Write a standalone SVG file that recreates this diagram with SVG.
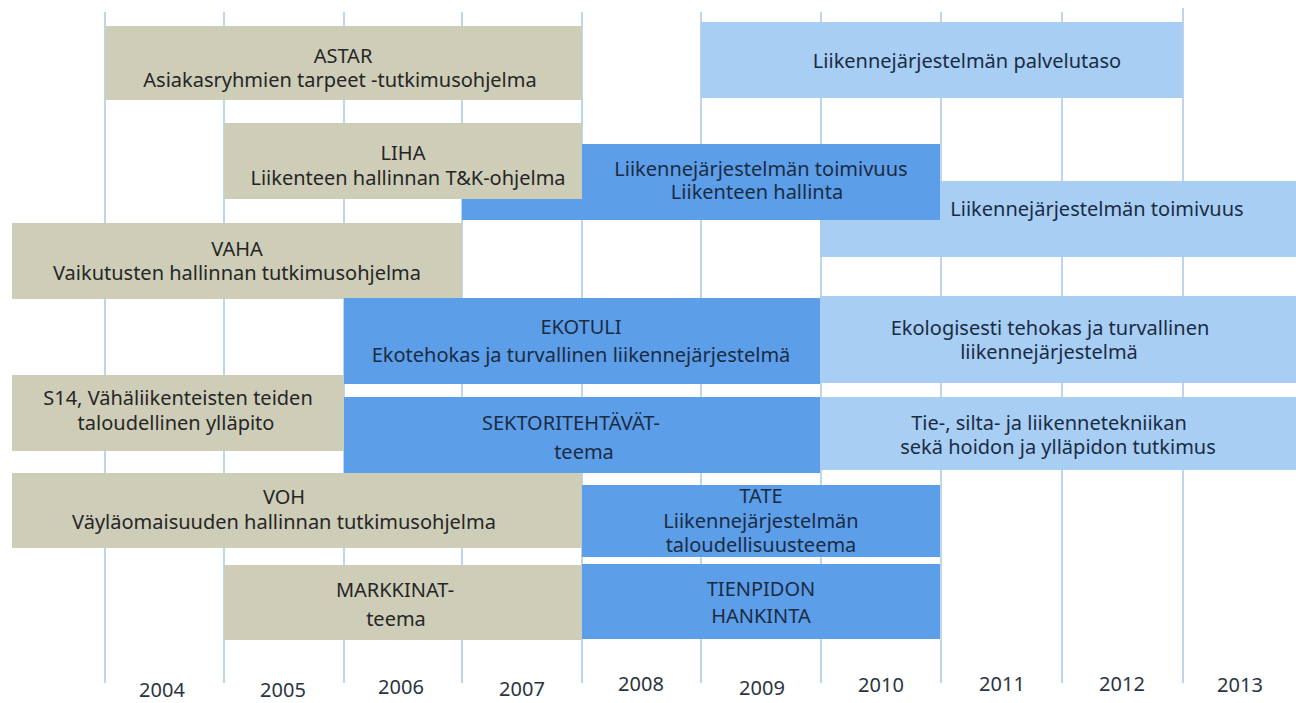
<svg xmlns="http://www.w3.org/2000/svg" width="1296" height="703" viewBox="0 0 1296 703">
<style>
.grid line{stroke:#a9c9e6;stroke-width:1.5}
.tan{fill:#cecdb8}
.dark{fill:#5d9ee9}
.light{fill:#a8cef4}
text{font-family:"Noto Sans","DejaVu Sans",sans-serif;font-size:20px;text-anchor:middle}
.tt{fill:#262626}
.bt{fill:#1a2c44}
.yr{fill:#2a3440;font-size:20px}
</style>
<rect width="1296" height="703" fill="#ffffff"/>
<g id="grid" class="grid">
<line x1="105" y1="12" x2="105" y2="683"/>
<line x1="224" y1="12" x2="224" y2="683"/>
<line x1="344" y1="12" x2="344" y2="683"/>
<line x1="462" y1="12" x2="462" y2="683"/>
<line x1="582" y1="12" x2="582" y2="683"/>
<line x1="701" y1="12" x2="701" y2="683"/>
<line x1="821" y1="12" x2="821" y2="683"/>
<line x1="941" y1="12" x2="941" y2="683"/>
<line x1="1062" y1="12" x2="1062" y2="683"/>
<line x1="1183" y1="8" x2="1183" y2="683"/>
</g>
<g id="connectors"></g>
<g id="astar"><rect class="tan" x="105" y="26" width="477" height="74"/>
<text class="tt"><tspan x="343" y="63">ASTAR</tspan><tspan x="340" y="87">Asiakasryhmien tarpeet -tutkimusohjelma</tspan></text></g>
<g id="palvelutaso"><rect class="light" x="701" y="22" width="482" height="76"/>
<text class="bt" x="967" y="68">Liikennejärjestelmän palvelutaso</text></g>
<g id="toimivuus-light"><rect class="light" x="820" y="181" width="476" height="76"/>
<text class="bt" x="1097" y="216">Liikennejärjestelmän toimivuus</text></g>
<g id="toimivuus-dark"><rect class="dark" x="462" y="144" width="478" height="76"/>
<text class="bt"><tspan x="761" y="176">Liikennejärjestelmän toimivuus</tspan><tspan x="757" y="199">Liikenteen hallinta</tspan></text></g>
<g id="liha"><rect class="tan" x="224" y="123" width="358" height="76"/>
<text class="tt"><tspan x="403" y="160">LIHA</tspan><tspan x="408" y="185">Liikenteen hallinnan T&amp;K-ohjelma</tspan></text></g>
<g id="vaha"><rect class="tan" x="12" y="223" width="450" height="76"/>
<text class="tt"><tspan x="237" y="256">VAHA</tspan><tspan x="237" y="280">Vaikutusten hallinnan tutkimusohjelma</tspan></text></g>
<g id="ekotuli"><rect class="dark" x="344" y="298" width="476" height="86"/>
<text class="bt"><tspan x="581" y="334">EKOTULI</tspan><tspan x="581" y="362">Ekotehokas ja turvallinen liikennejärjestelmä</tspan></text></g>
<g id="ekologisesti"><rect class="light" x="820" y="296" width="476" height="87"/>
<text class="bt"><tspan x="1050" y="335">Ekologisesti tehokas ja turvallinen</tspan><tspan x="1049" y="359">liikennejärjestelmä</tspan></text></g>
<g id="s14"><rect class="tan" x="12" y="375" width="332" height="76"/>
<text class="tt"><tspan x="178" y="405">S14, Vähäliikenteisten teiden</tspan><tspan x="176" y="430">taloudellinen ylläpito</tspan></text></g>
<g id="sektori"><rect class="dark" x="344" y="397" width="476" height="76"/>
<text class="bt"><tspan x="571" y="430">SEKTORITEHTÄVÄT-</tspan><tspan x="584" y="459">teema</tspan></text></g>
<g id="tie"><rect class="light" x="820" y="397" width="476" height="73"/>
<text class="bt"><tspan x="1049" y="430">Tie-, silta- ja liikennetekniikan</tspan><tspan x="1058" y="454">sekä hoidon ja ylläpidon tutkimus</tspan></text></g>
<g id="voh"><rect class="tan" x="12" y="473" width="570" height="75"/>
<text class="tt"><tspan x="284" y="504">VOH</tspan><tspan x="284" y="529">Väyläomaisuuden hallinnan tutkimusohjelma</tspan></text></g>
<g id="tate"><rect class="dark" x="582" y="485" width="358" height="72"/>
<text class="bt"><tspan x="761" y="503">TATE</tspan><tspan x="761" y="528">Liikennejärjestelmän</tspan><tspan x="761" y="552">taloudellisuusteema</tspan></text></g>
<g id="markkinat"><rect class="tan" x="224" y="565" width="358" height="75"/>
<text class="tt"><tspan x="395" y="597">MARKKINAT-</tspan><tspan x="396" y="626">teema</tspan></text></g>
<g id="tienpidon"><rect class="dark" x="582" y="564" width="358" height="75"/>
<text class="bt"><tspan x="761" y="596">TIENPIDON</tspan><tspan x="761" y="623">HANKINTA</tspan></text></g>
<g id="years">
<text class="yr" x="162" y="697">2004</text>
<text class="yr" x="283" y="697">2005</text>
<text class="yr" x="401" y="694">2006</text>
<text class="yr" x="522" y="696">2007</text>
<text class="yr" x="641" y="691">2008</text>
<text class="yr" x="762" y="695">2009</text>
<text class="yr" x="881" y="692">2010</text>
<text class="yr" x="1002" y="691">2011</text>
<text class="yr" x="1122" y="691">2012</text>
<text class="yr" x="1240" y="692">2013</text>
</g>
</svg>
